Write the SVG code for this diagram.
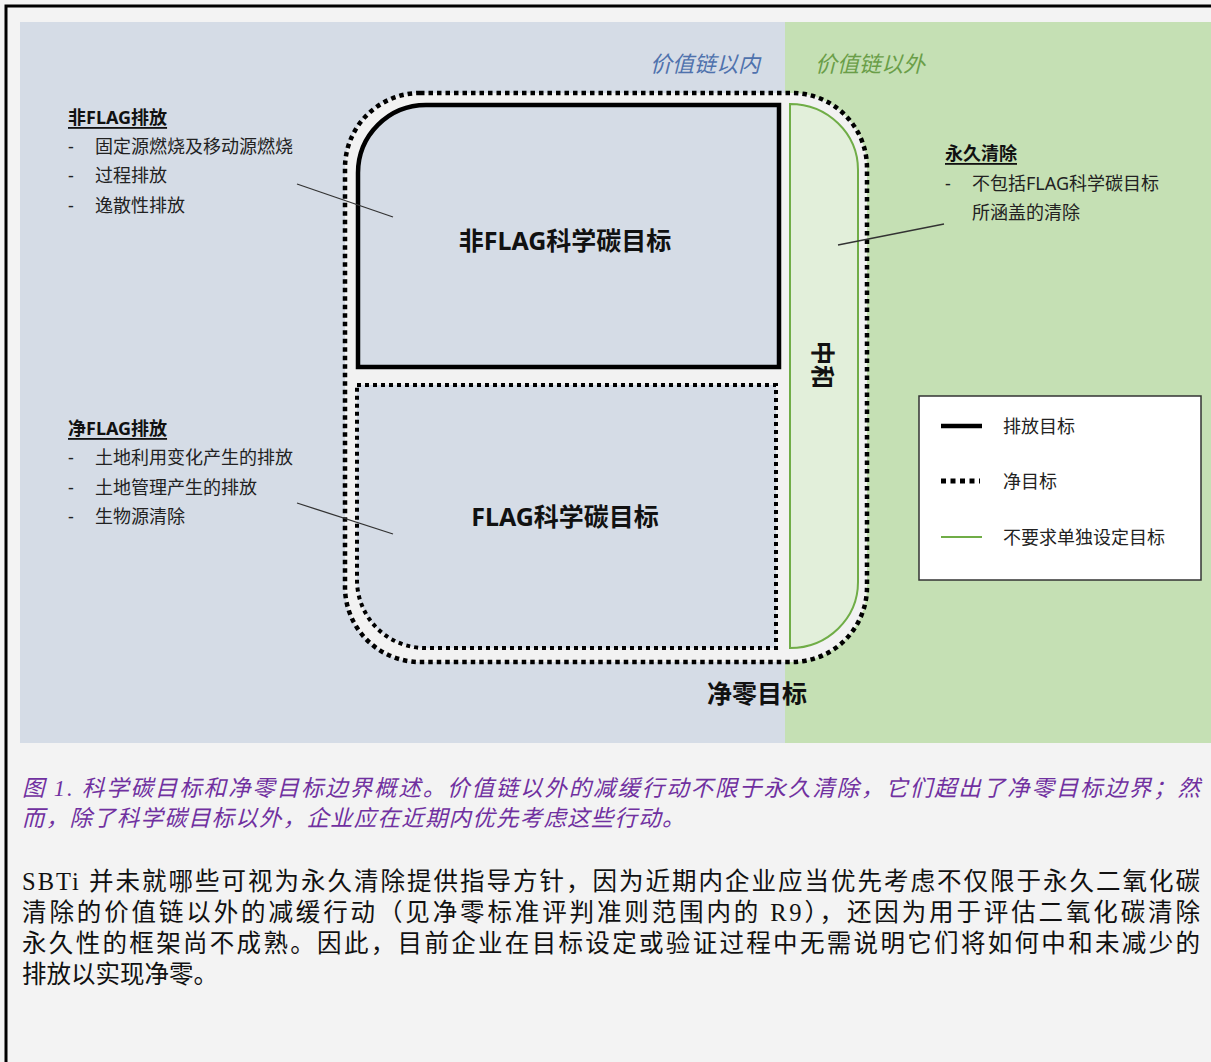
<svg xmlns="http://www.w3.org/2000/svg" width="1211" height="1062" viewBox="0 0 1211 1062">
<defs>
<style>
.sans{font-family:"Noto Sans","Noto Sans CJK SC",sans-serif;}
.serif{font-family:"Liberation Serif","Noto Sans CJK SC",serif;}
.lbl{font-size:18px;fill:#222;}
.hd{font-size:18px;font-weight:bold;fill:#111;text-decoration:underline;}
.big{font-size:25px;font-weight:bold;fill:#111;}
.solid{fill:none;stroke:#000;stroke-width:4.5;}
.dot{fill:none;stroke:#000;stroke-width:4;stroke-dasharray:4 4;}
.grn{stroke:#70ad47;stroke-width:2;}
.lead{stroke:#333;stroke-width:1.3;fill:none;}
</style>
</defs>
<rect x="0" y="0" width="1211" height="1062" fill="#f3f3f3"/>
<path d="M6,1062 L6,6 L1211,6" fill="none" stroke="#000" stroke-width="3"/>
<rect x="20" y="22" width="765" height="721" fill="#d5dce6"/>
<rect x="785" y="22" width="426" height="721" fill="#c5e0b4"/>

<g id="header-labels" class="sans">
<text x="760" y="63" text-anchor="end" dominant-baseline="central" font-size="22" font-style="italic" fill="#4f72ad">价值链以内</text>
<text x="815" y="63" dominant-baseline="central" font-size="22" font-style="italic" fill="#6a9e48">价值链以外</text>
</g>

<g id="net-zero-boundary">
<rect x="345" y="93" width="522" height="569" rx="75" ry="75" fill="#f2f2f2" stroke="#000" stroke-width="4.5" stroke-dasharray="4.5 4"/>
<text class="sans big" x="757" y="693" text-anchor="middle" dominant-baseline="central">净零目标</text>
</g>

<g id="non-flag-target">
<path d="M358,367 L358,173 A68,68 0 0 1 426,105 L779,105 L779,367 Z" class="solid" style="fill:#d5dce6"/>
<text class="sans big" x="565" y="240" text-anchor="middle" dominant-baseline="central">非FLAG科学碳目标</text>
</g>

<g id="flag-target">
<path d="M357,385 L776,385 L776,648 L425,648 A68,68 0 0 1 357,580 Z" class="dot" style="fill:#d5dce6"/>
<text class="sans big" x="565" y="516" text-anchor="middle" dominant-baseline="central">FLAG科学碳目标</text>
</g>

<g id="neutralization">
<path d="M790,104 A68,66 0 0 1 858,170 L858,582 A68,66 0 0 1 790,648 Z" fill="#e2efda" class="grn"/>
<text class="sans" transform="translate(823,365) rotate(90)" text-anchor="middle" dominant-baseline="central" font-size="24" font-weight="bold" fill="#111">中和</text>
</g>

<g id="non-flag-emissions" class="sans">
<text class="hd" x="68" y="117" dominant-baseline="central">非FLAG排放</text>
<text class="lbl" x="68" y="146" dominant-baseline="central">-</text>
<text class="lbl" x="95" y="146" dominant-baseline="central">固定源燃烧及移动源燃烧</text>
<text class="lbl" x="68" y="175" dominant-baseline="central">-</text>
<text class="lbl" x="95" y="175" dominant-baseline="central">过程排放</text>
<text class="lbl" x="68" y="205" dominant-baseline="central">-</text>
<text class="lbl" x="95" y="205" dominant-baseline="central">逸散性排放</text>
</g>

<g id="net-flag-emissions" class="sans">
<text class="hd" x="68" y="428" dominant-baseline="central">净FLAG排放</text>
<text class="lbl" x="68" y="457" dominant-baseline="central">-</text>
<text class="lbl" x="95" y="457" dominant-baseline="central">土地利用变化产生的排放</text>
<text class="lbl" x="68" y="487" dominant-baseline="central">-</text>
<text class="lbl" x="95" y="487" dominant-baseline="central">土地管理产生的排放</text>
<text class="lbl" x="68" y="516" dominant-baseline="central">-</text>
<text class="lbl" x="95" y="516" dominant-baseline="central">生物源清除</text>
</g>

<g id="permanent-removals" class="sans">
<text class="hd" x="945" y="153" dominant-baseline="central">永久清除</text>
<text class="lbl" x="945" y="183" dominant-baseline="central">-</text>
<text class="lbl" x="972" y="183" dominant-baseline="central">不包括FLAG科学碳目标</text>
<text class="lbl" x="972" y="212" dominant-baseline="central">所涵盖的清除</text>
</g>

<g id="connectors">
<line class="lead" x1="297" y1="184" x2="393" y2="217"/>
<line class="lead" x1="297" y1="503" x2="393" y2="534"/>
<line class="lead" x1="838" y1="245" x2="944" y2="224"/>
</g>

<g id="legend" class="sans">
<rect x="919" y="396" width="282" height="184" fill="#fff" stroke="#333" stroke-width="1.5"/>
<line x1="941" y1="426" x2="982" y2="426" stroke="#000" stroke-width="4.5"/>
<line x1="941" y1="481" x2="980" y2="481" stroke="#000" stroke-width="5" stroke-dasharray="5 4.5"/>
<line x1="941" y1="537" x2="982" y2="537" class="grn"/>
<text class="lbl" x="1003" y="426" dominant-baseline="central">排放目标</text>
<text class="lbl" x="1003" y="481" dominant-baseline="central">净目标</text>
<text class="lbl" x="1003" y="537" dominant-baseline="central">不要求单独设定目标</text>
</g>

<g id="caption" class="serif" font-style="italic" fill="#7030a0" font-size="22.5">
<text x="22" y="788" dominant-baseline="central" textLength="1178" lengthAdjust="spacing">图 1. 科学碳目标和净零目标边界概述。价值链以外的减缓行动不限于永久清除，它们超出了净零目标边界；然</text>
<text x="22" y="818" dominant-baseline="central" letter-spacing="1.2">而，除了科学碳目标以外，企业应在近期内优先考虑这些行动。</text>
</g>

<g id="body" class="serif" fill="#111" font-size="24.5">
<text x="22" y="881" dominant-baseline="central" textLength="1178" lengthAdjust="spacing">SBTi 并未就哪些可视为永久清除提供指导方针，因为近期内企业应当优先考虑不仅限于永久二氧化碳</text>
<text x="22" y="912" dominant-baseline="central" textLength="1178" lengthAdjust="spacing">清除的价值链以外的减缓行动（见净零标准评判准则范围内的 R9），还因为用于评估二氧化碳清除</text>
<text x="22" y="943" dominant-baseline="central" textLength="1178" lengthAdjust="spacing">永久性的框架尚不成熟。因此，目前企业在目标设定或验证过程中无需说明它们将如何中和未减少的</text>
<text x="22" y="974" dominant-baseline="central">排放以实现净零。</text>
</g>
</svg>
